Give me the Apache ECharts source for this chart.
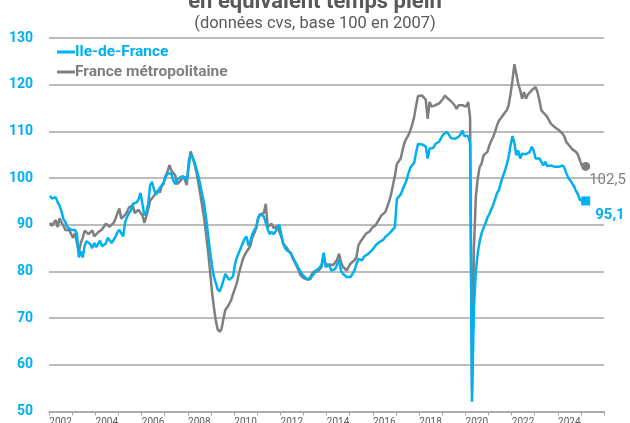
<!DOCTYPE html>
<html>
<head>
<meta charset="utf-8">
<script src="https://cdn.jsdelivr.net/npm/echarts@6/dist/echarts.min.js"></script>
<style>
  html, body { margin: 0; padding: 0; background: #fff; }
  #chart { width: 630px; height: 423px; }
</style>
</head>
<body>
<div id="chart"></div>
<script>
// monthly index, base 100 in 2007, from January 2002
const startYear = 2002
const yearLabels = ['2002', '2003', '2004', '2005', '2006', '2007', '2008', '2009', '2010', '2011', '2012', '2013',
  '2014', '2015', '2016', '2017', '2018', '2019', '2020', '2021', '2022', '2023', '2024', '2025']

const ileDeFrance = [
  96.2, 95.6, 95.4, 95.9, 94.8, 94.1, 92.9, 91.2, 90.6, 89.5, 89.1, 88.9,
  88.8, 88.9, 88.0, 83.0, 84.3, 83.0, 85.5, 86.5, 86.6, 85.8, 85.0, 86.1,
  85.2, 85.6, 86.6, 85.4, 85.4, 86.0, 87.2, 87.3, 86.1, 86.5, 87.4, 88.4,
  88.9, 88.5, 87.5, 90.5, 91.7, 92.5, 93.0, 94.5, 94.5, 94.8, 95.5, 96.8,
  97.0, 92.0, 92.6, 94.5, 98.5, 99.2, 97.5, 96.4, 97.1, 97.9, 98.4, 99.1,
  100.1, 101.0, 101.3, 101.0, 99.5, 98.7, 99.6, 99.6, 100.3, 100.7, 100.2, 99.4,
  102.5, 105.2, 105.0, 103.5, 102.0, 100.5, 98.5, 96.5, 94.5, 91.5, 88.0, 84.5,
  81.5, 79.0, 77.6, 76.2, 75.7, 76.7, 76.5, 79.5, 78.8, 78.2, 78.2, 78.9,
  81.5, 83.0, 84.0, 85.0, 86.0, 87.0, 87.5, 85.5, 86.5, 88.0, 88.8, 89.5,
  91.3, 92.2, 92.5, 91.8, 92.0, 89.0, 88.0, 88.5, 88.0, 88.5, 89.5, 90.0,
  88.0, 86.0, 85.0, 84.5, 84.2, 84.0, 83.0, 82.3, 81.5, 80.7, 80.0, 79.3,
  79.0, 78.5, 78.3, 78.3, 79.0, 79.5, 80.2, 80.5, 80.8, 81.5, 84.0, 81.0,
  81.2, 81.3, 80.2, 80.3, 80.5, 81.5, 82.4, 80.2, 79.5, 79.2, 78.8, 78.7,
  78.8, 79.5, 80.2, 81.5, 82.7, 82.5, 82.4, 83.2, 83.5, 83.7, 84.0, 84.5,
  85.0, 85.6, 86.0, 86.3, 85.9, 86.8, 87.4, 87.8, 88.1, 88.5, 89.0, 89.5,
  95.5, 95.5, 96.5, 97.5, 98.5, 99.5, 101.0, 102.2, 102.8, 103.3, 105.5, 107.3,
  107.7, 107.2, 107.4, 106.8, 104.2, 106.3, 106.0, 106.5, 107.3, 107.5, 107.8, 108.6,
  109.3, 109.6, 109.9, 109.3, 108.6, 108.4, 108.4, 108.5, 108.8, 109.3, 110.2, 109.0,
  108.8, 109.0, 107.5, 52.1, 72.0, 80.0, 84.0, 86.5, 88.2, 89.3, 90.3, 91.5,
  92.3, 93.3, 94.3, 95.5, 96.8, 97.4, 99.0, 100.3, 101.5, 102.8, 104.5, 107.0,
  109.0, 107.5, 104.9, 105.9, 104.2, 105.2, 104.9, 105.1, 105.3, 105.6, 106.7, 105.9,
  104.2, 104.5, 104.2, 104.3, 102.7, 103.5, 102.6, 102.4, 102.7, 102.5, 102.4, 102.5,
  102.4, 102.5, 102.7, 102.2, 101.0, 100.0, 99.5, 99.5, 98.2, 97.2, 96.5, 95.3,
  95.3, 95.2, 95.1
]

const franceMetro = [
  90.4, 89.8, 89.6, 91.0, 89.5, 91.4, 90.5, 89.8, 88.9, 89.0, 88.8, 88.0,
  87.2, 88.2, 88.0, 84.0, 86.1, 87.2, 88.7, 89.0, 88.0, 87.6, 88.8, 87.5,
  87.5, 88.4, 88.2, 89.0, 89.4, 90.2, 90.1, 89.6, 90.0, 90.4, 91.3, 92.4,
  93.5, 91.3, 90.9, 92.1, 92.8, 93.7, 93.5, 94.1, 92.5, 92.9, 93.2, 92.5,
  92.0, 90.4, 91.8, 93.4, 95.2, 95.6, 96.2, 96.9, 97.4, 96.9, 98.3, 98.8,
  100.5, 101.4, 102.8, 101.6, 101.1, 100.6, 98.7, 98.4, 99.5, 100.5, 99.6, 98.5,
  103.5, 105.7, 104.5, 103.0, 101.2, 99.0, 96.5, 94.0, 91.4, 88.0, 84.5, 80.4,
  76.0, 72.5, 69.6, 67.6, 67.1, 67.6, 69.8, 71.8, 72.3, 72.6, 73.8, 75.2,
  75.5, 77.5, 79.5, 81.0, 82.5, 83.5, 84.2, 84.8, 85.5, 87.2, 88.2, 89.2,
  91.5, 92.2, 92.4, 92.5, 94.5, 89.5, 89.5, 90.2, 89.3, 89.2, 89.7, 88.5,
  87.5, 86.0, 85.5, 85.0, 84.3, 83.8, 82.8, 82.0, 81.2, 80.2, 79.2, 78.8,
  78.5, 78.3, 78.2, 78.7, 79.5, 80.0, 79.7, 80.0, 80.5, 81.0, 83.5, 81.5,
  81.2, 81.5, 81.7, 81.4, 81.3, 82.5, 83.8, 82.0, 81.0, 80.6, 80.2, 81.0,
  81.7, 82.0, 82.4, 83.0, 85.5, 86.3, 86.7, 87.5, 88.1, 88.3, 88.6, 89.3,
  89.7, 89.9, 90.6, 91.3, 92.0, 92.3, 92.7, 93.8, 95.0, 96.5, 98.5, 100.5,
  103.0, 103.3, 104.2, 106.0, 107.6, 108.5, 109.2, 110.2, 111.5, 113.1, 115.5, 117.6,
  117.2, 117.7, 118.0, 116.8, 112.7, 116.3, 115.3, 115.0, 115.6, 115.8, 116.0, 116.4,
  117.0, 117.7, 117.2, 117.0, 116.5, 116.2, 115.6, 114.8, 115.6, 115.5, 115.6, 115.4,
  115.3, 116.3, 113.0, 54.6, 85.0, 96.0, 100.0, 102.4, 103.1, 104.9, 105.3, 105.6,
  107.0, 108.0, 108.8, 110.0, 111.3, 112.3, 112.8, 113.2, 114.0, 114.5, 115.6, 118.0,
  120.9, 124.4, 122.3, 120.2, 118.8, 117.0, 118.4, 117.0, 117.9, 118.3, 118.8, 119.1,
  119.5, 118.4, 116.6, 114.5, 114.1, 113.6, 113.1, 112.7, 111.6, 112.0, 110.9, 110.9,
  110.3, 110.0, 109.5, 108.8, 107.7, 107.2, 106.7, 106.2, 105.9, 105.6, 105.0, 103.8,
  102.7, 102.5, 102.5
]

const BLUE = '#00b0f0'
const GREY = '#7f7f7f'
const GRID_GREY = '#a6a6a6'
const FONT = 'Roboto, "Noto Sans", sans-serif'

const toPoints = arr => arr.map((v, i) => [startYear + (i + 0.5) / 12, v])
const lastPoint = arr => [startYear + (arr.length - 0.5) / 12, arr[arr.length - 1]]
const fmt = v => v.toFixed(1).replace('.', ',')

const chart = echarts.init(document.getElementById('chart'), null, { renderer: 'canvas' })

const idfLast = lastPoint(ileDeFrance)
const frLast = lastPoint(franceMetro)

chart.setOption({
  animation: false,
  backgroundColor: '#fff',
  textStyle: { fontFamily: FONT },
  title: {
    text: 'en équivalent temps plein',
    subtext: '(données cvs, base 100 en 2007)',
    left: 'center',
    top: -14,
    itemGap: 2,
    textStyle: { color: '#595959', fontSize: 22, fontWeight: 'bold', fontFamily: FONT },
    subtextStyle: { color: '#595959', fontSize: 16.5, fontFamily: FONT },
  },
  legend: {
    orient: 'vertical',
    left: 52,
    top: 39,
    itemGap: 4,
    itemWidth: 18,
    itemHeight: 3,
    icon: 'rect',
    data: [
      { name: 'Ile-de-France', textStyle: { color: BLUE } },
      { name: 'France métropolitaine', textStyle: { color: GREY } },
    ],
    textStyle: { fontSize: 15.5, fontWeight: 'bold', padding: [0, 0, 0, -5], fontFamily: FONT },
  },
  grid: { left: 49, right: 26, top: 38, bottom: 11.5, outerBoundsMode: 'none' },
  xAxis: [
    {
      type: 'category',
      data: yearLabels,
      boundaryGap: true,
      axisLine: { lineStyle: { color: GRID_GREY, width: 1.5 } },
      axisTick: { show: true, interval: 0, length: 4, lineStyle: { color: GRID_GREY } },
      axisLabel: { interval: 1, color: '#595959', fontSize: 10, margin: 6 },
      splitLine: { show: false },
    },
    {
      type: 'value',
      min: 2002,
      max: 2026,
      show: false,
    },
  ],
  yAxis: {
    type: 'value',
    min: 50,
    max: 130,
    interval: 10,
    axisLine: { show: false },
    axisTick: { show: false },
    axisLabel: { color: BLUE, fontSize: 14, fontWeight: 'bold', margin: 16 },
    splitLine: { lineStyle: { color: GRID_GREY, width: 1.5 } },
  },
  series: [
    {
      name: 'France métropolitaine',
      type: 'line',
      xAxisIndex: 1,
      data: toPoints(franceMetro),
      showSymbol: false,
      lineStyle: { color: GREY, width: 2.5 },
      itemStyle: { color: GREY },
      z: 2,
      markPoint: {
        symbol: 'circle',
        symbolSize: 9,
        itemStyle: { color: GREY },
        label: {
          show: true,
          position: 'right',
          offset: [-6, 14],
          color: GREY,
          fontSize: 15,
          formatter: () => fmt(frLast[1]),
        },
        data: [{ coord: frLast }],
      },
    },
    {
      name: 'Ile-de-France',
      type: 'line',
      xAxisIndex: 1,
      data: toPoints(ileDeFrance),
      showSymbol: false,
      lineStyle: { color: BLUE, width: 2.5 },
      itemStyle: { color: BLUE },
      z: 3,
      markPoint: {
        symbol: 'rect',
        symbolSize: 9,
        itemStyle: { color: BLUE },
        label: {
          show: true,
          position: 'right',
          offset: [0, 14],
          color: BLUE,
          fontSize: 15,
          fontWeight: 'bold',
          formatter: () => fmt(idfLast[1]),
        },
        data: [{ coord: idfLast }],
      },
    },
  ],
})
</script>
</body>
</html>
